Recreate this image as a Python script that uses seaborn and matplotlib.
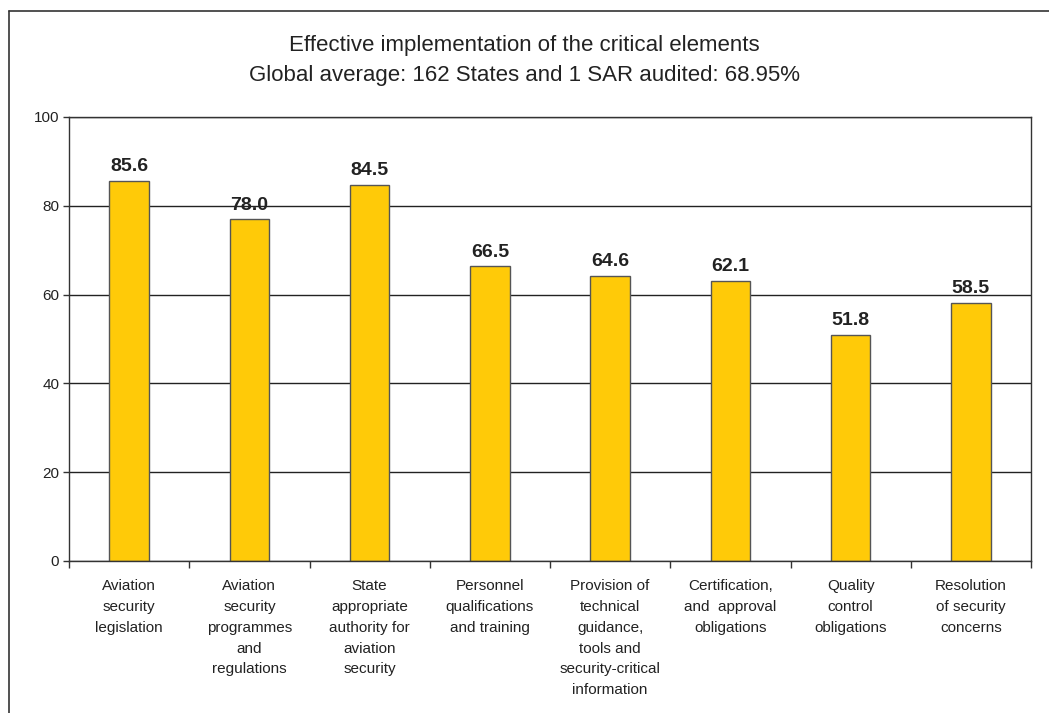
import seaborn as sns
import matplotlib.pyplot as plt
from matplotlib.lines import Line2D
from matplotlib.ticker import FixedLocator

categories = [
    "Aviation\nsecurity\nlegislation",
    "Aviation\nsecurity\nprogrammes\nand\nregulations",
    "State\nappropriate\nauthority for\naviation\nsecurity",
    "Personnel\nqualifications\nand training",
    "Provision of\ntechnical\nguidance,\ntools and\nsecurity-critical\ninformation",
    "Certification,\nand  approval\nobligations",
    "Quality\ncontrol\nobligations",
    "Resolution\nof security\nconcerns",
]
heights = [85.6, 77.0, 84.7, 66.4, 64.2, 63.1, 50.9, 58.1]
value_labels = ["85.6", "78.0", "84.5", "66.5", "64.6", "62.1", "51.8", "58.5"]
title_lines = [
    "Effective implementation of the critical elements",
    "Global average: 162 States and 1 SAR audited: 68.95%",
]

sns.set_style("white")
plt.rcParams["font.family"] = ["Liberation Sans", "DejaVu Sans"]

fig = plt.figure(figsize=(10.49, 7.13), dpi=100)
ax = fig.add_axes([69 / 1049, 152 / 713, 962 / 1049, 444 / 713])

sns.barplot(ax=ax, x=categories, y=heights, color="#FFCA08", width=0.33,
            edgecolor="#555555", linewidth=1, saturation=1)

ax.bar_label(ax.containers[0], labels=value_labels, padding=4,
             fontsize=14, fontweight="bold", color="#222222")

ax.set_ylim(0, 100)
ax.set_xlim(-0.5, len(categories) - 0.5)
ax.set_yticks([0, 20, 40, 60, 80, 100])
ax.yaxis.grid(True, color="#222222", linewidth=1)
ax.set_axisbelow(True)
for s in ax.spines.values():
    s.set_color("#333333")
    s.set_linewidth(1)

ax.tick_params(axis="y", length=4, width=1, color="#333333", labelsize=11,
               labelcolor="#222222", left=True, pad=3)
ax.tick_params(axis="x", which="major", length=0, labelsize=11,
               labelcolor="#222222", pad=13)
for lbl in ax.get_xticklabels():
    lbl.set_linespacing(1.62)
ax.xaxis.set_minor_locator(FixedLocator([i - 0.5 for i in range(len(categories) + 1)]))
ax.tick_params(axis="x", which="minor", length=5, width=1, color="#333333", bottom=True)
ax.set_xlabel("")
ax.set_ylabel("")

fig.text(0.5, 1 - 45 / 713, title_lines[0], ha="center", va="center",
         fontsize=16, color="#222222")
fig.text(0.5, 1 - 75 / 713, title_lines[1], ha="center", va="center",
         fontsize=16, color="#222222")

# outer frame (only top and left edges visible in the original)
fig.add_artist(Line2D([9 / 1049, 1], [1 - 11 / 713, 1 - 11 / 713],
                      color="#333333", linewidth=1.2, transform=fig.transFigure))
fig.add_artist(Line2D([9 / 1049, 9 / 1049], [0, 1 - 11 / 713],
                      color="#333333", linewidth=1.2, transform=fig.transFigure))

plt.savefig("out.png", dpi=100)
